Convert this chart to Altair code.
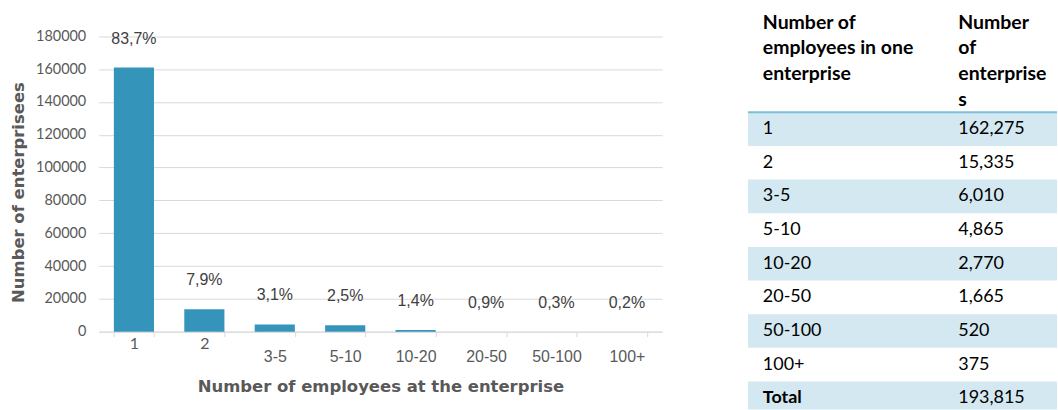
import altair as alt
import pandas as pd

# ---- bar chart data ----
categories = ["1", "2", "3-5", "5-10", "10-20", "20-50", "50-100", "100+"]
bar_values = [161000, 13700, 4400, 3900, 1000, 0, 0, 0]
pct_labels = ["83,7%", "7,9%", "3,1%", "2,5%", "1,4%", "0,9%", "0,3%", "0,2%"]
y_ticks = [0, 20000, 40000, 60000, 80000, 100000, 120000, 140000, 160000, 180000]

# ---- table data ----
table_rows = ["1", "2", "3-5", "5-10", "10-20", "20-50", "50-100", "100+", "Total"]
table_counts = ["162,275", "15,335", "6,010", "4,865", "2,770", "1,665", "520", "375", "193,815"]
header_col1 = "Number of\nemployees in one\nenterprise"
header_col2 = "Number\nof\nenterprise\ns"

BAR_COLOR = "#3494ba"
GRID = "#d9d9d9"
AXIS_TXT = "#595959"
TITLE_FONT = "DejaVu Sans"

bar_df = pd.DataFrame({"cat": categories, "value": bar_values, "label": pct_labels})

x_enc = alt.X(
    "cat:N",
    sort=categories,
    scale=alt.Scale(paddingInner=0.43, paddingOuter=0.215),
    axis=alt.Axis(
        title="Number of employees at the enterprise",
        titleFont=TITLE_FONT, titleFontWeight="bold", titleFontSize=16.5, titleColor=AXIS_TXT,
        titlePadding=14,
        labelAngle=0, tickBand="extent",
        domainColor=GRID, tickColor=GRID, tickSize=5,
        labelPadding=12,
        labelFont={"condition": {"test": "datum.label == '1' || datum.label == '2'", "value": "Lato"},
                   "value": "Liberation Sans"},
        labelBaseline={"condition": {"test": "datum.label == '1' || datum.label == '2'", "value": "alphabetic"},
                       "value": "top"},
        labelFontSize=16, labelColor=AXIS_TXT,
    ),
)
y_enc = alt.Y(
    "value:Q",
    scale=alt.Scale(domain=[0, 201800], nice=False),
    axis=alt.Axis(
        values=y_ticks, format="d", labelOverlap=False,
        title="Number of enterprisees", titleY=192,
        titleFont=TITLE_FONT, titleFontWeight="bold", titleFontSize=16.5, titleColor=AXIS_TXT,
        titlePadding=9,
        labelFont="Lato", labelFontSize=14.5, labelColor=AXIS_TXT, labelPadding=13,
        ticks=False, domain=False, gridColor=GRID, gridWidth=1,
    ),
)

gap = alt.Chart(bar_df).mark_bar(color="white", width=alt.RelativeBandSize(0.69)).encode(x=x_enc, y=y_enc)
bars = alt.Chart(bar_df).mark_bar(color=BAR_COLOR).encode(x=x_enc, y=y_enc)
labels = alt.Chart(bar_df).mark_text(
    dy=-29, font="Liberation Sans", fontSize=16, color="#404040", baseline="middle"
).encode(x=x_enc, y=y_enc, text="label:N")

bar_chart = alt.layer(gap, bars, labels).properties(width=565, height=332)

# ---- table ----
table_df = pd.DataFrame({"row": table_rows, "count": table_counts})
table_df["idx"] = range(len(table_rows))
table_df["shade"] = table_df["idx"] % 2 == 0

yscale = alt.Scale(domain=table_rows, range=[112, 415.75], paddingInner=0, paddingOuter=0)
ty = alt.Y("row:N", sort=table_rows, scale=yscale, axis=None)

stripes = alt.Chart(table_df).transform_filter("datum.shade").mark_rect(
    color="#d3e8f1", clip=True
).encode(y=ty)

head_rule = alt.Chart(pd.DataFrame({"row": [table_rows[0]]})).mark_rule(
    color="#7fbfdc", strokeWidth=2
).encode(y=alt.Y("row:N", sort=table_rows, scale=yscale, axis=None, bandPosition=0))

TFONT = "Lato"
TSIZE = 18
HSIZE = 19.5
body1 = alt.Chart(table_df).transform_filter("datum.row != 'Total'").mark_text(
    align="left", baseline="middle", font=TFONT, fontSize=TSIZE, color="#000000"
).encode(y=ty, x=alt.value(15), text="row:N")
body2 = alt.Chart(table_df).transform_filter("datum.row != 'Total'").mark_text(
    align="left", baseline="middle", font=TFONT, fontSize=TSIZE, color="#000000"
).encode(y=ty, x=alt.value(211), text="count:N")
tot1 = alt.Chart(table_df).transform_filter("datum.row == 'Total'").mark_text(
    align="left", baseline="middle", font=TFONT, fontSize=TSIZE, fontWeight="bold", color="#000000"
).encode(y=ty, x=alt.value(15), text="row:N")
tot2 = alt.Chart(table_df).transform_filter("datum.row == 'Total'").mark_text(
    align="left", baseline="middle", font=TFONT, fontSize=TSIZE, color="#000000"
).encode(y=ty, x=alt.value(211), text="count:N")

head_df = pd.DataFrame({"h": [header_col1, header_col2], "col": [0, 1]})
head1 = alt.Chart(head_df).transform_filter("datum.col == 0").mark_text(
    align="left", baseline="alphabetic", font=TFONT, fontSize=HSIZE, fontWeight="bold",
    lineBreak="\n", lineHeight=26, color="#000000"
).encode(x=alt.value(15), y=alt.value(28), text="h:N")
head2 = alt.Chart(head_df).transform_filter("datum.col == 1").mark_text(
    align="left", baseline="alphabetic", font=TFONT, fontSize=HSIZE, fontWeight="bold",
    lineBreak="\n", lineHeight=26, color="#000000"
).encode(x=alt.value(211), y=alt.value(28), text="h:N")

table_chart = alt.layer(stripes, head_rule, body1, body2, tot1, tot2, head1, head2).properties(
    width=310, height=410
)

chart = alt.hconcat(bar_chart, table_chart, spacing=85).properties(
    padding={"left": 10, "top": 0, "right": 0, "bottom": 0}
).configure(background="white").configure_view(stroke=None)

chart.save("out.html", embed_options={"renderer": "svg", "actions": False})
